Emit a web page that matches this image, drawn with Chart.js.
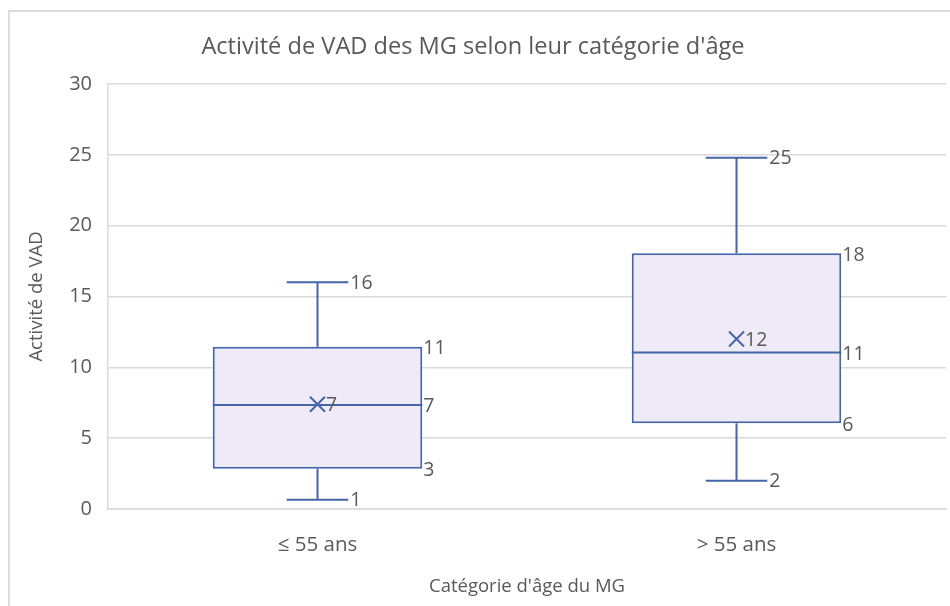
<!DOCTYPE html>
<html lang="fr">
<head>
<meta charset="utf-8">
<script src="https://cdn.jsdelivr.net/npm/chart.js@4"></script>
<style>
  html, body { margin: 0; padding: 0; background: #fff; overflow: hidden; }
  #wrap { position: relative; width: 950px; height: 606px; }
  #frame {
    position: absolute; left: 8px; top: 10px; width: 1000px; height: 700px;
    border-left: 2px solid #dcdcdc; border-top: 2px solid #dcdcdc;
    pointer-events: none;
  }
</style>
</head>
<body>
<div id="wrap">
  <canvas id="box-chart" width="950" height="606"></canvas>
  <div id="frame"></div>
</div>
<script>
const boxCanvas = document.getElementById("box-chart");

// Données
const categories = ["≤ 55 ans", "> 55 ans"];
const minValues = [0.65, 2.0];
const q1Values = [2.85, 6.05];
const medianValues = [7.35, 11.05];
const meanValues = [7.4, 12.0];
const q3Values = [11.45, 18.05];
const maxValues = [16.0, 24.8];

const yTicks = [0, 5, 10, 15, 20, 25, 30];

const strokeColor = "#4565AA";
const fillColor = "#EFEAF7";
const textColor = "#595959";
const fontFamily = "'Open Sans', 'Noto Sans', sans-serif";

// Moustaches, médiane, moyenne et étiquettes
const boxPlotExtras = {
  id: "boxPlotExtras",
  afterDatasetsDraw(chart) {
    const ctx = chart.ctx;
    const y = chart.scales.y;
    const meta = chart.getDatasetMeta(0);

    ctx.save();
    ctx.strokeStyle = strokeColor;
    ctx.lineWidth = 2;
    ctx.font = "19.5px " + fontFamily;
    ctx.textBaseline = "middle";
    ctx.textAlign = "left";

    meta.data.forEach((bar, i) => {
      const cx = bar.x;
      const half = bar.width / 2;
      const capHalf = bar.width * 0.147;
      const yMin = y.getPixelForValue(minValues[i]);
      const yQ1 = y.getPixelForValue(q1Values[i]);
      const yMed = y.getPixelForValue(medianValues[i]);
      const yMean = y.getPixelForValue(meanValues[i]);
      const yQ3 = y.getPixelForValue(q3Values[i]);
      const yMax = y.getPixelForValue(maxValues[i]);

      ctx.beginPath();
      // moustache haute
      ctx.moveTo(cx, yQ3);
      ctx.lineTo(cx, yMax);
      ctx.moveTo(cx - capHalf, yMax);
      ctx.lineTo(cx + capHalf, yMax);
      // moustache basse
      ctx.moveTo(cx, yQ1);
      ctx.lineTo(cx, yMin);
      ctx.moveTo(cx - capHalf, yMin);
      ctx.lineTo(cx + capHalf, yMin);
      // médiane
      ctx.moveTo(cx - half, yMed);
      ctx.lineTo(cx + half, yMed);
      // moyenne (croix)
      const m = 7.5;
      ctx.moveTo(cx - m, yMean - m);
      ctx.lineTo(cx + m, yMean + m);
      ctx.moveTo(cx - m, yMean + m);
      ctx.lineTo(cx + m, yMean - m);
      ctx.stroke();

      ctx.fillStyle = textColor;
      const fmt = (v) => Math.round(v).toString();
      ctx.fillText(fmt(maxValues[i]), cx + capHalf + 2, yMax + 1);
      ctx.fillText(fmt(minValues[i]), cx + capHalf + 2, yMin + 1);
      ctx.fillText(fmt(q3Values[i]), cx + half + 1, yQ3 + 2);
      ctx.fillText(fmt(medianValues[i]), cx + half + 1, yMed + 2);
      ctx.fillText(fmt(q1Values[i]), cx + half + 1, yQ1 + 2);
      ctx.fillText(fmt(meanValues[i]), cx + m + 1, yMean + 1);
    });
    ctx.restore();
  },
};

new Chart(boxCanvas, {
  type: "bar",
  data: {
    labels: categories,
    datasets: [
      {
        label: "Activité de VAD",
        data: q1Values.map((q1, i) => [q1, q3Values[i]]),
        backgroundColor: fillColor,
        borderColor: strokeColor,
        borderWidth: 2,
        borderSkipped: false,
        categoryPercentage: 1,
        barPercentage: 0.5,
      },
    ],
  },
  options: {
    responsive: false,
    animation: false,
    layout: {
      padding: { left: 0, right: 4, top: 0, bottom: 0 },
    },
    plugins: {
      legend: { display: false },
      tooltip: { enabled: false },
      title: {
        display: true,
        text: "Activité de VAD des MG selon leur catégorie d'âge",
        color: textColor,
        font: { family: fontFamily, size: 23.6, weight: "normal" },
        padding: { top: 33, bottom: 22.7 },
      },
    },
    scales: {
      x: {
        grid: { display: false },
        border: { display: true, color: "#d9d9d9", width: 1.5 },
        ticks: {
          color: textColor,
          font: { family: fontFamily, size: 20.5 },
          padding: 16,
        },
        title: {
          display: true,
          text: "Catégorie d'âge du MG",
          color: textColor,
          font: { family: fontFamily, size: 18.5 },
          padding: { top: 4, bottom: 8 },
        },
        afterFit: (scale) => {
          scale.height = 97;
        },
      },
      y: {
        min: 0,
        max: 30,
        afterBuildTicks: (scale) => {
          scale.ticks = yTicks.map((v) => ({ value: v }));
        },
        grid: { color: "#d9d9d9", lineWidth: 1.5, drawTicks: false },
        border: { display: true, color: "#d9d9d9", width: 1.5 },
        ticks: {
          color: textColor,
          font: { family: fontFamily, size: 20 },
          padding: 16,
        },
        title: {
          display: true,
          text: "Activité de VAD",
          color: textColor,
          font: { family: fontFamily, size: 18.5 },
          padding: { top: 26, bottom: 4 },
        },
        afterFit: (scale) => {
          scale.width = 108;
        },
      },
    },
  },
  plugins: [boxPlotExtras],
});
</script>
</body>
</html>
